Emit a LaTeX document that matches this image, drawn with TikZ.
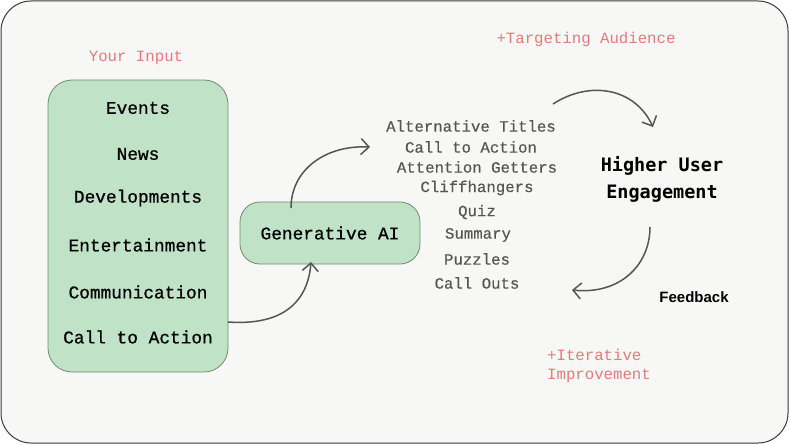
\documentclass[tikz,border=0pt]{standalone}
\usepackage{fontspec}
\setmainfont{Liberation Sans}
\setmonofont{Liberation Mono}
\newfontfamily\boldmono{DejaVu Sans Mono}
\newfontfamily\medmono[FakeBold=0.8]{Liberation Mono}
\newfontfamily\lightmono[FakeBold=0.3]{Liberation Mono}
\usetikzlibrary{arrows.meta}
\definecolor{bgc}{HTML}{F7F8F6}
\definecolor{framec}{HTML}{3A3A3A}
\definecolor{greenfill}{HTML}{C0E2C6}
\definecolor{greenedge}{HTML}{6F8A73}
\definecolor{redtxt}{HTML}{E57A7A}
\definecolor{graytxt}{HTML}{555555}
\definecolor{arrowc}{HTML}{555555}
\tikzset{
  item/.style={font=\medmono\fontsize{17.8}{20}\selectfont, text=black, inner sep=0pt},
  outitem/.style={font=\lightmono\fontsize{15.7}{18}\selectfont, text=graytxt, inner sep=0pt},
  redlbl/.style={font=\ttfamily\fontsize{15.7}{18}\selectfont, text=redtxt, inner sep=0pt},
  greenbox/.style={draw=greenedge, fill=greenfill, line width=0.8pt, rounded corners=24pt},
  conn/.style={draw=arrowc, line width=1.5pt, -{Straight Barb[length=8pt,width=16pt,line width=1.5pt]}},
}
\begin{document}
\begin{tikzpicture}[x=1pt,y=-1pt]
\useasboundingbox (0,0) rectangle (789,444);
\draw[framec, fill=bgc, line width=1pt, rounded corners=30pt] (1,1) rectangle (788,443);

% left box
\draw[greenbox] (48,80) rectangle (228,372);
\node[redlbl] (yin) at (136,58) {Your Input};
\node[item] (i1) at (138,108) {Events};
\node[item] (i2) at (138,154) {News};
\node[item] (i3) at (138,198) {Developments};
\node[item] (i4) at (138,245) {Entertainment};
\node[item] (i5) at (138,292) {Communication};
\node[item] (i6) at (138,337) {Call to Action};

% generative AI
\node[greenbox, rounded corners=20pt, minimum width=180pt, minimum height=62pt, inner sep=0pt, font=\medmono\fontsize{17.8}{20}\selectfont] (gen) at (330,233) {Generative AI};

% outputs
\node[outitem] (o1) at (471,126) {Alternative Titles};
\node[outitem] (o2) at (471,147) {Call to Action};
\node[outitem] (o3) at (477,167) {Attention Getters};
\node[outitem] (o4) at (477,188) {Cliffhangers};
\node[outitem] (o5) at (477,212) {Quiz};
\node[outitem] (o6) at (478,235) {Summary};
\node[outitem] (o7) at (477,259) {Puzzles};
\node[outitem] (o8) at (477,283) {Call Outs};

\node[redlbl] (tgt) at (586,39) {+Targeting Audience};
\node[redlbl, align=left, anchor=north west, font=\ttfamily\fontsize{15.7}{18.5}\selectfont] (iter) at (547,349) {+Iterative\\Improvement};

\node[font=\boldmono\bfseries\fontsize{18.5}{27}\selectfont, align=center, inner sep=0pt] (hue) at (662,179) {Higher User\\Engagement};
\node[font=\bfseries\fontsize{15}{17}\selectfont, inner sep=0pt] (fb) at (694,297) {Feedback};

% connectors
\coordinate (a1s) at (228,322);
\coordinate (a1e) at (311,262);
\draw[conn] (a1s) .. controls (285,326) and (308,300) .. (a1e);
\coordinate (a2s) at (291,208);
\coordinate (a2e) at (370,147);
\draw[conn] (a2s) .. controls (291,170) and (325,145) .. (a2e);
\coordinate (a3s) at (553,104);
\coordinate (a3e) at (653,127);
\draw[conn] (a3s) .. controls (590,80) and (635,88) .. (a3e);
\coordinate (a4s) at (650,227);
\coordinate (a4e) at (572,290);
\draw[conn] (a4s) .. controls (650,265) and (620,295) .. (a4e);
\end{tikzpicture}
\end{document}
